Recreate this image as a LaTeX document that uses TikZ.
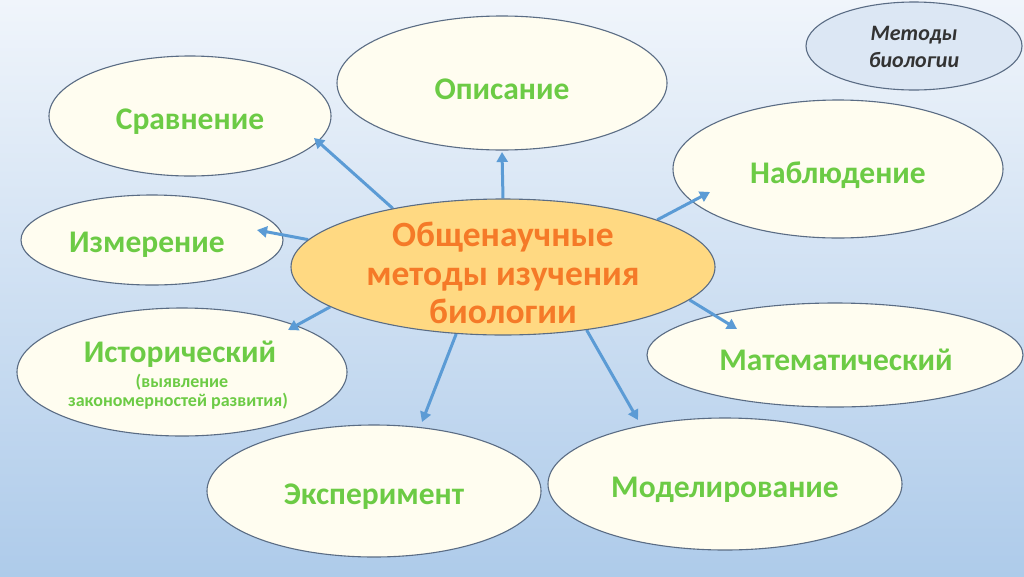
\documentclass[tikz,border=0pt]{standalone}
\usepackage{fontspec}
\setmainfont{Carlito}
\usetikzlibrary{arrows.meta,shapes.geometric}

\definecolor{bgtop}{HTML}{F0F5FB}
\definecolor{bgbot}{HTML}{AECBEA}
\definecolor{cream}{HTML}{FFFDF0}
\definecolor{ovalline}{HTML}{5A6C84}
\definecolor{lgreen}{HTML}{6CCB45}
\definecolor{dorange}{HTML}{F57A28}
\definecolor{sun}{HTML}{FFD982}
\definecolor{arrblue}{HTML}{5B9BD5}
\definecolor{pale}{HTML}{DCE7F4}

\pgfdeclarelayer{front}
\pgfsetlayers{main,front}

\begin{document}
\begin{tikzpicture}[x=1pt,y=-1pt,>={Triangle[length=10pt,width=11pt]},
	oval/.style={ellipse,draw=ovalline,line width=1.1pt,fill=cream,inner sep=0pt},
	word/.style={font=\bfseries\fontsize{31.5}{36}\selectfont,text=lgreen},
	small/.style={font=\bfseries\fontsize{18}{21}\selectfont,text=lgreen},
	arr/.style={->,draw=arrblue,line width=3pt}]

\useasboundingbox (0,0) rectangle (1024,576);
\shade[top color=bgtop,bottom color=bgbot] (0,0) rectangle (1024,576);

% outer ovals
\node[oval,minimum width=330pt,minimum height=134pt] (Op) at (502,83) {};
\node[oval,minimum width=282pt,minimum height=120pt] (Sr) at (190,116) {};
\node[oval,minimum width=330pt,minimum height=138pt] (Na) at (838,169) {};
\node[oval,minimum width=262pt,minimum height=90pt] (Iz) at (152,240) {};
\node[oval,minimum width=330pt,minimum height=128pt] (Is) at (182,372) {};
\node[oval,minimum width=376pt,minimum height=104pt] (Ma) at (835,355) {};
\node[oval,minimum width=334pt,minimum height=132pt] (Ek) at (374,491) {};
\node[oval,minimum width=354pt,minimum height=132pt] (Mo) at (725,484) {};
\node[oval,fill=pale,minimum width=216pt,minimum height=88pt] (MB) at (914,46) {};

\node[word] (tOp) at (502,89) {Описание};
\node[word] (tSr) at (190,122) {Сравнение};
\node[word] (tNa) at (838,175) {Наблюдение};
\node[word] (tIz) at (147,245) {Измерение};
\node[word] (tIs) at (180,354) {Исторический};
\node[small] (tIs2) at (182,382) {(выявление};
\node[small] (tIs3) at (178,401) {закономерностей развития)};
\node[word] (tMa) at (836,360) {Математический};
\node[word] (tEk) at (374,497) {Эксперимент};
\node[word] (tMo) at (725,490) {Моделирование};

\node[font=\bfseries\itshape\fontsize{22}{27}\selectfont,text=black!80,align=center] (tMB) at (914,47) {Методы\\биологии};

% centre
\begin{pgfonlayer}{front}
\node[oval,fill=sun,minimum width=424pt,minimum height=136pt] (C) at (503,267) {};
\node[font=\bfseries\fontsize{35.5}{38.5}\selectfont,text=dorange,align=center] (tC) at (503,273) {Общенаучные\\методы изучения\\биологии};
\end{pgfonlayer}

% arrow tips
\coordinate (eOp) at (502,152);
\coordinate (eSr) at (314,138);
\coordinate (eNa) at (710,192);
\coordinate (eIz) at (257,230);
\coordinate (eIs) at (288,330);
\coordinate (eMa) at (737,329);
\coordinate (eEk) at (422,422);
\coordinate (eMo) at (638,420);

\foreach \a/\e in {90/eOp,152.8/eSr,17/eNa,172.7/eIz,193.9/eIs,350.9/eMa,235/eEk,323.4/eMo}{
	\draw[arr] (C.\a)--(\e);
}

\end{tikzpicture}
\end{document}
